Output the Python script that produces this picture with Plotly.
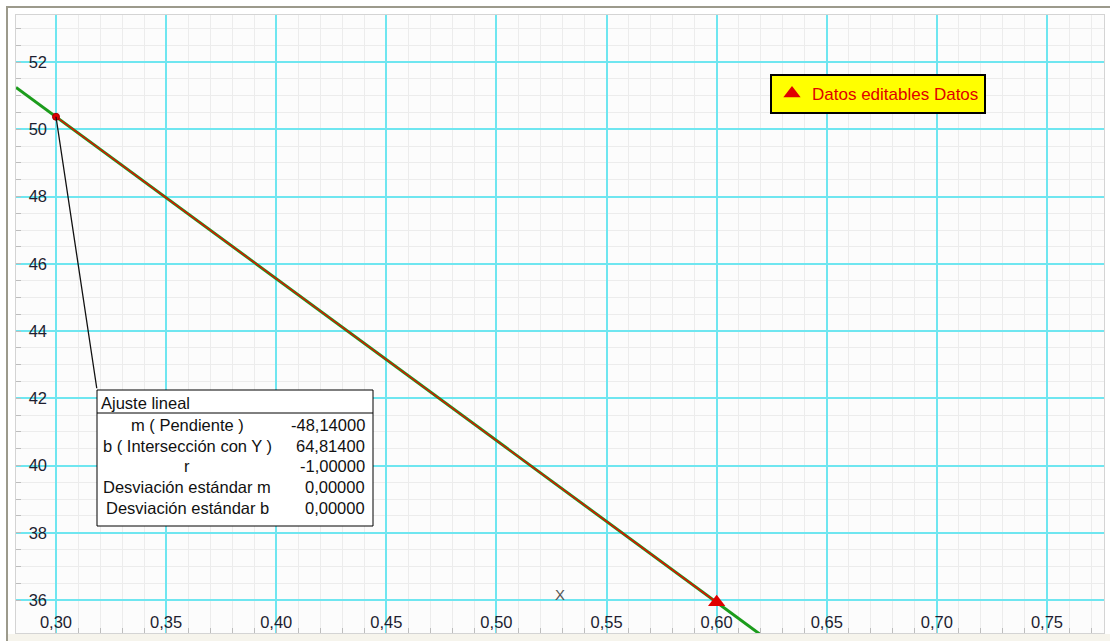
import plotly.graph_objects as go

# Measured points of the data series
x_data = [0.30, 0.60]
y_data = [50.372, 35.930]

# Linear fit summary
fit_m = -48.14
fit_b = 64.814
fit_r = -1.0
fit_sd_m = 0.0
fit_sd_b = 0.0

fit_labels = ["m ( Pendiente )", "b ( Intersección con Y )", "r",
              "Desviación estándar m", "Desviación estándar b"]
fit_values = [fit_m, fit_b, fit_r, fit_sd_m, fit_sd_b]

# Axis ticks (decimal comma)
x_ticks = [0.30, 0.35, 0.40, 0.45, 0.50, 0.55, 0.60, 0.65, 0.70, 0.75]
x_ticktext = ["0,30", "0,35", "0,40", "0,45", "0,50", "0,55", "0,60", "0,65", "0,70", "0,75"]
y_ticks = [36, 38, 40, 42, 44, 46, 48, 50, 52]
y_ticktext = ["36", "38", "40", "42", "44", "46", "48", "50", "52"]

x_range = [0.28184, 0.77589]
y_range = [35.019, 53.398]

# ---- page geometry (pixels) ----
W, H = 1110, 641
L, R, T, B = 16, 1104, 15, 633


def px(x):
    return (x - L) / (R - L)


def py(y):
    return (B - y) / (B - T)


def comma(v, nd=5):
    return f"{v:.{nd}f}".replace(".", ",")


FONT = "Liberation Sans, Arial, sans-serif"
CYAN = "#6fe6f0"
MINOR = "#ececec"
PLOT_BG = "#fcfcfc"

fig = go.Figure()

# fitted line y = m x + b across the whole x range
fit_x = list(x_range)
fit_y = [fit_m * xv + fit_b for xv in fit_x]
fig.add_trace(go.Scatter(x=fit_x, y=fit_y, mode="lines",
                         line=dict(color="#1c9c1c", width=3),
                         showlegend=False, hoverinfo="skip"))

# data series joined by a line
fig.add_trace(go.Scatter(x=x_data, y=y_data, mode="lines",
                         line=dict(color="#f00000", width=1.3),
                         showlegend=False, hoverinfo="skip"))

# first point: small dot
fig.add_trace(go.Scatter(x=x_data[:1], y=y_data[:1], mode="markers",
                         marker=dict(symbol="circle", size=7, color="#e00000",
                                     line=dict(color="#a00000", width=1)),
                         showlegend=False))

# last point: triangle (legend entry)
fig.add_trace(go.Scatter(x=x_data[1:], y=y_data[1:], mode="markers",
                         name="Datos editables Datos",
                         marker=dict(symbol="triangle-up", size=15, color="#e00000",
                                     line=dict(width=0))))

shapes = []
# backgrounds behind tick labels, sitting between grid and traces
for yt in y_ticks:
    shapes.append(dict(type="rect", xref="paper", yref="y", layer="between",
                       x0=px(27), x1=px(50), y0=yt - 0.27, y1=yt + 0.27,
                       fillcolor=PLOT_BG, line=dict(width=0)))
for xt in x_ticks:
    shapes.append(dict(type="rect", xref="x", yref="paper", layer="between",
                       x0=xt - 0.0085, x1=xt + 0.0085, y0=py(631), y1=py(611),
                       fillcolor=PLOT_BG, line=dict(width=0)))

# outer window frame
shapes.append(dict(type="line", xref="paper", yref="paper",
                   x0=px(7), x1=px(7), y0=py(641), y1=py(6),
                   line=dict(color="#9c9a8c", width=2)))
shapes.append(dict(type="line", xref="paper", yref="paper",
                   x0=px(6), x1=px(1110), y0=py(7), y1=py(7),
                   line=dict(color="#9c9a8c", width=2)))
shapes.append(dict(type="rect", xref="paper", yref="paper", layer="below",
                   x0=px(8), x1=px(1110), y0=py(641), y1=py(634),
                   fillcolor="#f6f4ec", line=dict(width=0)))

# fit summary box
box_l, box_r, box_t, box_b = 97, 373, 390, 526
shapes.append(dict(type="rect", xref="paper", yref="paper", layer="above",
                   x0=px(box_l), x1=px(box_r), y0=py(box_b), y1=py(box_t),
                   fillcolor="white", line=dict(color="black", width=1)))
shapes.append(dict(type="line", xref="paper", yref="paper", layer="above",
                   x0=px(box_l), x1=px(box_r), y0=py(413), y1=py(413),
                   line=dict(color="black", width=1)))

annotations = []
# callout from the first point to the summary box
annotations.append(dict(x=x_data[0], y=y_data[0], xref="x", yref="y",
                        text="", showarrow=True, arrowhead=0, arrowwidth=1.3,
                        arrowcolor="#111111", ax=box_l - 56, ay=box_t - 117,
                        standoff=0, startstandoff=0))

annotations.append(dict(x=px(99), y=py(403), xref="paper", yref="paper",
                        text="Ajuste lineal", showarrow=False,
                        xanchor="left", yanchor="middle",
                        font=dict(family=FONT, size=16.5, color="#111111")))
row_y0, row_step = 425, 20.7
for i, (lab, val) in enumerate(zip(fit_labels, fit_values)):
    yy = row_y0 + i * row_step
    annotations.append(dict(x=px(187), y=py(yy), xref="paper", yref="paper",
                            text=lab, showarrow=False,
                            xanchor="center", yanchor="middle",
                            font=dict(family=FONT, size=16.5, color="#111111")))
    annotations.append(dict(x=px(367), y=py(yy), xref="paper", yref="paper",
                            text=comma(val), showarrow=False,
                            xanchor="right", yanchor="middle",
                            font=dict(family=FONT, size=16.5, color="#111111")))

# axis name
annotations.append(dict(x=0.5, y=py(594), xref="paper", yref="paper",
                        text="X", showarrow=False,
                        xanchor="center", yanchor="middle",
                        font=dict(family=FONT, size=15, color="#555555")))

fig.update_layout(
    width=W, height=H,
    margin=dict(l=L, r=W - R, t=T, b=H - B, pad=0),
    paper_bgcolor="white",
    plot_bgcolor=PLOT_BG,
    font=dict(family=FONT, size=16.5, color="#1e1e30"),
    shapes=shapes,
    annotations=annotations,
    showlegend=True,
    legend=dict(x=px(770), y=py(74), xanchor="left", yanchor="top",
                bgcolor="#ffff00", bordercolor="black", borderwidth=2,
                font=dict(family=FONT, size=17, color="#e00000"),
                itemsizing="trace"),
    xaxis=dict(range=x_range, tickmode="array", tickvals=x_ticks, ticktext=x_ticktext,
               ticklabelposition="inside", showgrid=True, gridcolor=CYAN, gridwidth=1.5,
               ticks="inside", ticklen=2, tickcolor="#bdbdbd",
               tickfont=dict(family=FONT, size=16.5, color="#1e1e30"),
               zeroline=False, showline=True, linecolor="#d4d4d4", linewidth=1, mirror=True,
               minor=dict(dtick=0.01, showgrid=True, gridcolor=MINOR, gridwidth=1,
                          ticks="inside", ticklen=5, tickcolor="#bdbdbd")),
    yaxis=dict(range=y_range, tickmode="array", tickvals=y_ticks, ticktext=y_ticktext,
               ticklabelposition="inside", ticklabelstandoff=8,
               showgrid=True, gridcolor=CYAN, gridwidth=1.5,
               ticks="inside", ticklen=5, tickcolor="#bdbdbd",
               tickfont=dict(family=FONT, size=16.5, color="#1e1e30"),
               zeroline=False, showline=True, linecolor="#d4d4d4", linewidth=1, mirror=True,
               minor=dict(dtick=0.5, showgrid=True, gridcolor=MINOR, gridwidth=1,
                          ticks="inside", ticklen=5, tickcolor="#bdbdbd")),
)

fig.write_html("out.html")
